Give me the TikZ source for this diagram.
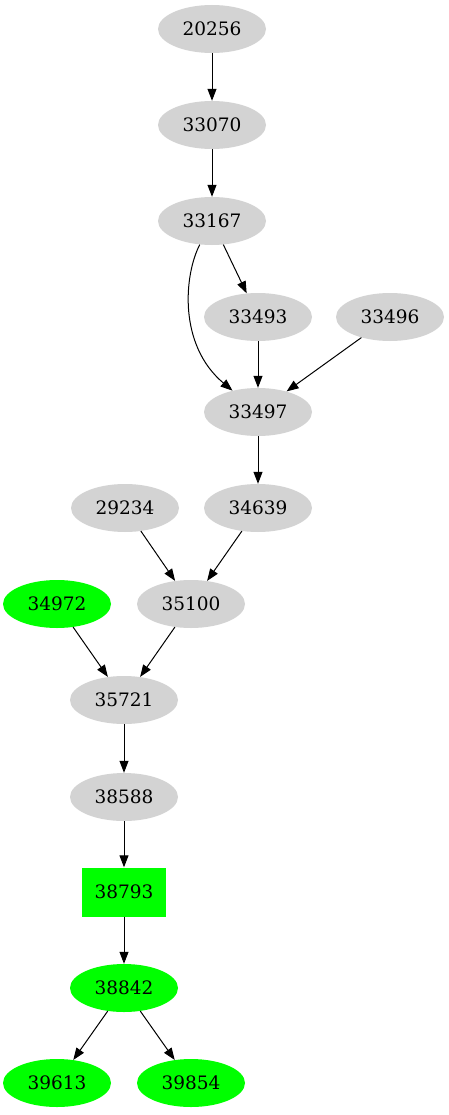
\documentclass[tikz,border=0pt]{standalone}
\usepackage{fontspec}
\setmainfont{DejaVu Serif}
\usetikzlibrary{shapes.geometric,arrows.meta}
\definecolor{gvgray}{HTML}{D3D3D3}
\definecolor{gvgreen}{HTML}{00FF00}
\tikzset{
  gnode/.style={ellipse,fill=gvgray,draw=none,minimum width=108pt,minimum height=48pt,inner sep=0pt,font=\fontsize{18.5}{18.5}\selectfont},
  grnode/.style={gnode,fill=gvgreen},
  boxnode/.style={rectangle,fill=gvgreen,draw=none,minimum width=84pt,minimum height=49pt,inner sep=0pt,font=\fontsize{18.5}{18.5}\selectfont},
  edge/.style={draw=black,line width=1pt,-{Triangle[length=12pt,width=9pt]}}
}
\begin{document}
\begin{tikzpicture}[x=1pt,y=-1pt]
\useasboundingbox (0,0) rectangle (449,1115);
\node[gnode] (a) at (212,29) {20256};
\node[gnode] (b) at (212,125) {33070};
\node[gnode] (c) at (212,221) {33167};
\node[gnode] (d) at (258,317) {33493};
\node[gnode] (e) at (390,317) {33496};
\node[gnode] (f) at (258,412) {33497};
\node[gnode] (g) at (125,508) {29234};
\node[gnode] (h) at (258,508) {34639};
\node[grnode] (i) at (57,604) {34972};
\node[gnode] (j) at (191,604) {35100};
\node[gnode] (k) at (124,700) {35721};
\node[gnode] (l) at (124,797) {38588};
\node[boxnode] (m) at (124,892) {38793};
\node[grnode] (n) at (124,988) {38842};
\node[grnode] (o) at (57,1083) {39613};
\node[grnode] (p) at (191,1083) {39854};
\draw[edge] (a) -- (b);
\draw[edge] (b) -- (c);
\draw[edge] (c) -- (d);
\draw[edge] (c) .. controls (184,275) and (178,345) .. (f);
\draw[edge] (d) -- (f);
\draw[edge] (e) -- (f);
\draw[edge] (f) -- (h);
\draw[edge] (g) -- (j);
\draw[edge] (h) -- (j);
\draw[edge] (i) -- (k);
\draw[edge] (j) -- (k);
\draw[edge] (k) -- (l);
\draw[edge] (l) -- (m);
\draw[edge] (m) -- (n);
\draw[edge] (n) -- (o);
\draw[edge] (n) -- (p);
\end{tikzpicture}
\end{document}
